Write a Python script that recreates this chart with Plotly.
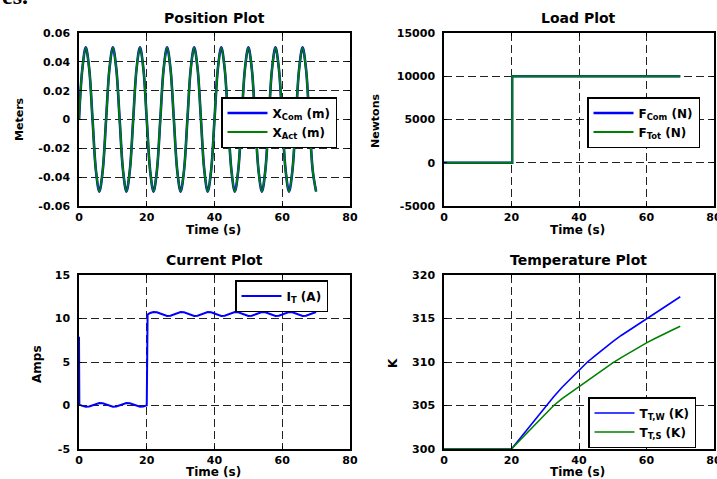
import plotly.graph_objects as go

# ---------------- data ----------------
t_pos = list(range(0, 71))
x_com = [0, 0.0354, 0.05, 0.0354, 0, -0.0354, -0.05, -0.0354,
         0, 0.0354, 0.05, 0.0354, 0, -0.0354, -0.05, -0.0354,
         0, 0.0354, 0.05, 0.0354, 0, -0.0354, -0.05, -0.0354,
         0, 0.0354, 0.05, 0.0354, 0, -0.0354, -0.05, -0.0354,
         0, 0.0354, 0.05, 0.0354, 0, -0.0354, -0.05, -0.0354,
         0, 0.0354, 0.05, 0.0354, 0, -0.0354, -0.05, -0.0354,
         0, 0.0354, 0.05, 0.0354, 0, -0.0354, -0.05, -0.0354,
         0, 0.0354, 0.05, 0.0354, 0, -0.0354, -0.05, -0.0354,
         0, 0.0354, 0.05, 0.0354, 0, -0.0354, -0.05]
x_act = list(x_com)

t_load = [0, 20.2, 20.2, 70]
f_com = [0, 0, 10000, 10000]
f_tot = [0, 0, 10000, 10000]

t_cur = [0, 0.1] + list(range(1, 20)) + [20, 20.25] + list(range(21, 71))
i_t = [7.9, 0.10,
       -0.045, -0.144, -0.118, 0.019, 0.185, 0.284, 0.258, 0.121, -0.045, -0.144,
       -0.118, 0.019, 0.185, 0.284, 0.258, 0.121, -0.045, -0.144, -0.118,
       0.02, 10.45,
       10.64, 10.74, 10.72, 10.57, 10.40, 10.30, 10.32, 10.47,
       10.64, 10.74, 10.72, 10.57, 10.40, 10.30, 10.32, 10.47,
       10.64, 10.74, 10.72, 10.57, 10.40, 10.30, 10.32, 10.47,
       10.64, 10.74, 10.72, 10.57, 10.40, 10.30, 10.32, 10.47,
       10.64, 10.74, 10.72, 10.57, 10.40, 10.30, 10.32, 10.47,
       10.64, 10.74, 10.72, 10.57, 10.40, 10.30, 10.32, 10.47,
       10.64, 10.74]

t_temp = [0, 20, 22.5, 25, 27.5, 30, 32.5, 35, 37.5, 40, 42.5, 45, 47.5,
          50, 52.5, 55, 57.5, 60, 62.5, 65, 67.5, 70]
temp_w = [300, 300, 301.2, 302.4, 303.7, 304.9, 306.0, 307.1, 308.1, 309.1,
          310.0, 310.8, 311.6, 312.35, 313.05, 313.7, 314.35, 315.0, 315.65,
          316.3, 316.9, 317.5]
temp_s = [300, 300, 301.0, 302.0, 303.1, 304.1, 305.0, 305.8, 306.5, 307.2,
          307.9, 308.6, 309.25, 309.9, 310.5, 311.1, 311.65, 312.2, 312.7,
          313.2, 313.65, 314.1]

x_ticks = [0, 20, 40, 60, 80]
x_ticktext = ["0", "20", "40", "60", "80"]
pos_ticks = [0.06, 0.04, 0.02, 0, -0.02, -0.04, -0.06]
pos_ticktext = ["0.06", "0.04", "0.02", "0", "-0.02", "-0.04", "-0.06"]
load_ticks = [15000, 10000, 5000, 0, -5000]
load_ticktext = ["15000", "10000", "5000", "0", "-5000"]
cur_ticks = [15, 10, 5, 0, -5]
cur_ticktext = ["15", "10", "5", "0", "-5"]
temp_ticks = [320, 315, 310, 305, 300]
temp_ticktext = ["320", "315", "310", "305", "300"]

BLUE = "#0000ff"
GREEN = "#008000"
FONT = "DejaVu Sans"

fig = go.Figure()

# Position
fig.add_trace(go.Scatter(x=t_pos, y=x_com, mode="lines", name="X<sub>Com</sub> (m)",
                         line=dict(color=BLUE, width=2.6, shape="spline"),
                         xaxis="x", yaxis="y", legend="legend"))
fig.add_trace(go.Scatter(x=t_pos, y=x_act, mode="lines", name="X<sub>Act</sub> (m)",
                         line=dict(color=GREEN, width=2, shape="spline"),
                         xaxis="x", yaxis="y", legend="legend"))
# Load
fig.add_trace(go.Scatter(x=t_load, y=f_com, mode="lines", name="F<sub>Com</sub> (N)",
                         line=dict(color=BLUE, width=2.4),
                         xaxis="x2", yaxis="y2", legend="legend2"))
fig.add_trace(go.Scatter(x=t_load, y=f_tot, mode="lines", name="F<sub>Tot</sub> (N)",
                         line=dict(color=GREEN, width=2),
                         xaxis="x2", yaxis="y2", legend="legend2"))
# Current
fig.add_trace(go.Scatter(x=t_cur, y=i_t, mode="lines", name="I<sub>T</sub> (A)",
                         line=dict(color=BLUE, width=2),
                         xaxis="x3", yaxis="y3", legend="legend3"))
# Temperature
fig.add_trace(go.Scatter(x=t_temp, y=temp_w, mode="lines", name="T<sub>T,W</sub> (K)",
                         line=dict(color=BLUE, width=1.6),
                         xaxis="x4", yaxis="y4", legend="legend4"))
fig.add_trace(go.Scatter(x=t_temp, y=temp_s, mode="lines", name="T<sub>T,S</sub> (K)",
                         line=dict(color=GREEN, width=1.6),
                         xaxis="x4", yaxis="y4", legend="legend4"))

W, H = 717, 479
def px_x(p):
    return p / W
def px_y(p):
    return 1 - p / H

xdom_l = [px_x(79), px_x(350)]
xdom_r = [px_x(444), px_x(714)]
ydom_t = [px_y(206), px_y(33)]
ydom_b = [px_y(449), px_y(275)]

tickfont = dict(family=FONT, size=11, color="black", weight="bold")

def xax(dom, anchor):
    return dict(domain=dom, anchor=anchor, range=[0, 80], tickvals=x_ticks, ticktext=x_ticktext,
                showgrid=True, gridcolor="#222", griddash="8px,4px", gridwidth=1,
                zeroline=False, showline=True, linecolor="black", linewidth=1.5, mirror="ticks",
                ticks="inside", ticklen=3, tickcolor="black", tickfont=tickfont,
                ticklabelstandoff=0, automargin=False, ticklabeloverflow="allow")

def yax(dom, anchor, rng, tv, tt):
    return dict(domain=dom, anchor=anchor, range=rng, tickvals=tv, ticktext=tt,
                showgrid=True, gridcolor="#222", griddash="8px,4px", gridwidth=1,
                zeroline=False, showline=True, linecolor="black", linewidth=1.5, mirror="ticks",
                ticks="inside", ticklen=3, tickcolor="black", tickfont=tickfont,
                ticklabelstandoff=5, automargin=False, ticklabeloverflow="allow")

legstyle = dict(bgcolor="white", bordercolor="black", borderwidth=1.5,
                font=dict(family=FONT, size=12, color="black", weight="bold"),
                xanchor="left", yanchor="top", tracegroupgap=0, itemwidth=40)

def ann(text, x, y, size, angle=0):
    return dict(text=text, x=x, y=y, xref="paper", yref="paper", showarrow=False,
                xanchor="center", yanchor="middle", textangle=angle,
                font=dict(family=FONT, size=size, color="black", weight="bold"))

fig.update_layout(
    width=W, height=H, margin=dict(l=0, r=0, t=0, b=0, autoexpand=False),
    paper_bgcolor="white", plot_bgcolor="white",
    xaxis=xax(xdom_l, "y"), yaxis=yax(ydom_t, "x", [-0.06, 0.06], pos_ticks, pos_ticktext),
    xaxis2=xax(xdom_r, "y2"), yaxis2=yax(ydom_t, "x2", [-5000, 15000], load_ticks, load_ticktext),
    xaxis3=xax(xdom_l, "y3"), yaxis3=yax(ydom_b, "x3", [-5, 15], cur_ticks, cur_ticktext),
    xaxis4=xax(xdom_r, "y4"), yaxis4=yax(ydom_b, "x4", [300, 320], temp_ticks, temp_ticktext),
    legend=dict(x=px_x(221), y=px_y(97), **legstyle),
    legend2=dict(x=px_x(587), y=px_y(97), **legstyle),
    legend3=dict(x=px_x(235), y=px_y(280), **legstyle),
    legend4=dict(x=px_x(588), y=px_y(397), **legstyle),
    annotations=[
        ann("Position Plot", px_x(214), px_y(18), 14),
        ann("Load Plot", px_x(578), px_y(18), 14),
        ann("Current Plot", px_x(214), px_y(260), 14),
        ann("Temperature Plot", px_x(578), px_y(260), 14),
        ann("Time (s)", px_x(213), px_y(230), 12),
        ann("Time (s)", px_x(577), px_y(230), 12),
        ann("Time (s)", px_x(213), px_y(472), 12),
        ann("Time (s)", px_x(577), px_y(472), 12),
        ann("Meters", px_x(19), px_y(119), 11, -90),
        ann("Newtons", px_x(376), px_y(121), 11, -90),
        ann("Amps", px_x(37), px_y(364), 12, -90),
        ann("K", px_x(393), px_y(363), 12, -90),
        dict(text="es.", x=0.0, y=px_y(11), xref="paper", yref="paper", showarrow=False,
             xanchor="left", yanchor="bottom",
             font=dict(family="Liberation Serif", size=24, color="black", weight="bold")),
    ],
)

fig.write_html("out.html")
